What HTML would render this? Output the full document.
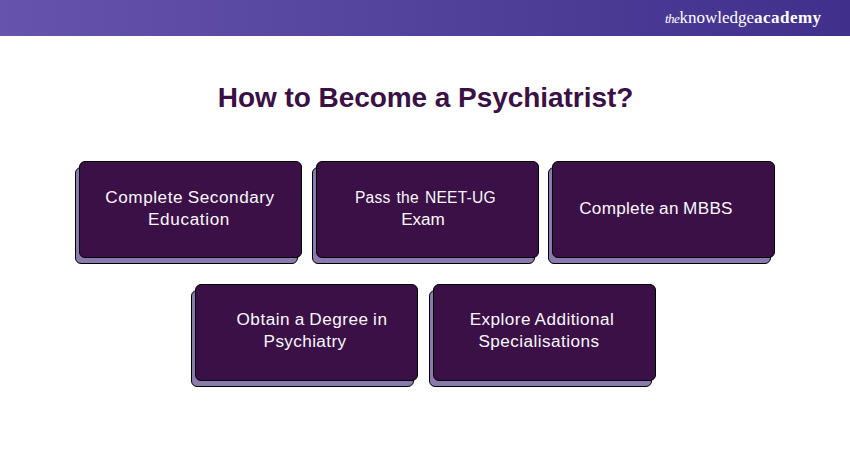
<!DOCTYPE html>
<html>
<head>
<meta charset="utf-8">
<style>
html,body{margin:0;padding:0;}
body{width:850px;height:450px;background:#ffffff;position:relative;overflow:hidden;font-family:"Liberation Sans",sans-serif;}
.hdr{position:absolute;left:0;top:0;width:850px;height:36px;background:linear-gradient(90deg,#6553ad 0%,#53429c 50%,#41308b 100%);}
.logo{position:absolute;left:665px;top:5.5px;font-family:"Liberation Serif",serif;color:#fff;font-size:17px;white-space:nowrap;line-height:24px;}
.logo .the{font-style:italic;font-size:13px;letter-spacing:-0.5px;}
.logo .kn{letter-spacing:0.0px;}
.logo .ac{font-weight:bold;letter-spacing:0.48px;}
.title{position:absolute;left:0.5px;letter-spacing:-0.05px;top:81px;width:850px;text-align:center;font-weight:bold;color:#3a1045;font-size:28px;line-height:34px;white-space:nowrap;}
.sh{position:absolute;box-sizing:border-box;border:1.5px solid #000;border-radius:6px;background:#8b7aad;}
.fr{position:absolute;box-sizing:border-box;border:1.5px solid #000;border-radius:6px;background:#3a1047;}
.ln{position:absolute;width:300px;text-align:center;transform:scaleX(1.1);transform-origin:150px 0;color:#fbf8fb;font-size:15.6px;line-height:20px;word-spacing:-0.6px;white-space:nowrap;}
</style>
</head>
<body>
<div class="hdr"></div>
<div class="logo"><span class="the">the</span><span class="kn">knowledge</span><span class="ac">academy</span></div>
<div class="title">How to Become a Psychiatrist?</div>

<div class="sh" style="left:75px;top:167px;width:223px;height:97.2px;"></div>
<div class="fr" style="left:79px;top:161px;width:223px;height:97.2px;"></div>
<div class="ln" style="left:40.20px;top:188.00px;letter-spacing:0.497px;">Complete Secondary</div>
<div class="ln" style="left:38.80px;top:210.00px;letter-spacing:0.571px;">Education</div>
<div class="sh" style="left:312px;top:167px;width:223px;height:97.2px;"></div>
<div class="fr" style="left:316px;top:161px;width:223px;height:97.2px;"></div>
<div class="ln" style="left:275.40px;top:188.00px;letter-spacing:0.220px;transform:scaleX(1.0);word-spacing:1.5px;">Pass the NEET-UG</div>
<div class="ln" style="left:272.90px;top:210.00px;letter-spacing:-0.081px;">Exam</div>
<div class="sh" style="left:548px;top:167px;width:223px;height:97.2px;"></div>
<div class="fr" style="left:552px;top:161px;width:223px;height:97.2px;"></div>
<div class="ln" style="left:505.50px;top:199.00px;letter-spacing:0.247px;">Complete an MBBS</div>
<div class="sh" style="left:191px;top:290px;width:223px;height:97.2px;"></div>
<div class="fr" style="left:195px;top:284px;width:223px;height:97.2px;"></div>
<div class="ln" style="left:162.00px;top:310.00px;letter-spacing:0.452px;">Obtain a Degree in</div>
<div class="ln" style="left:154.70px;top:332.00px;letter-spacing:0.338px;">Psychiatry</div>
<div class="sh" style="left:429px;top:290px;width:223px;height:97.2px;"></div>
<div class="fr" style="left:433px;top:284px;width:223px;height:97.2px;"></div>
<div class="ln" style="left:392.10px;top:310.00px;letter-spacing:0.401px;">Explore Additional</div>
<div class="ln" style="left:388.60px;top:332.00px;letter-spacing:0.406px;">Specialisations</div>
</body>
</html>
